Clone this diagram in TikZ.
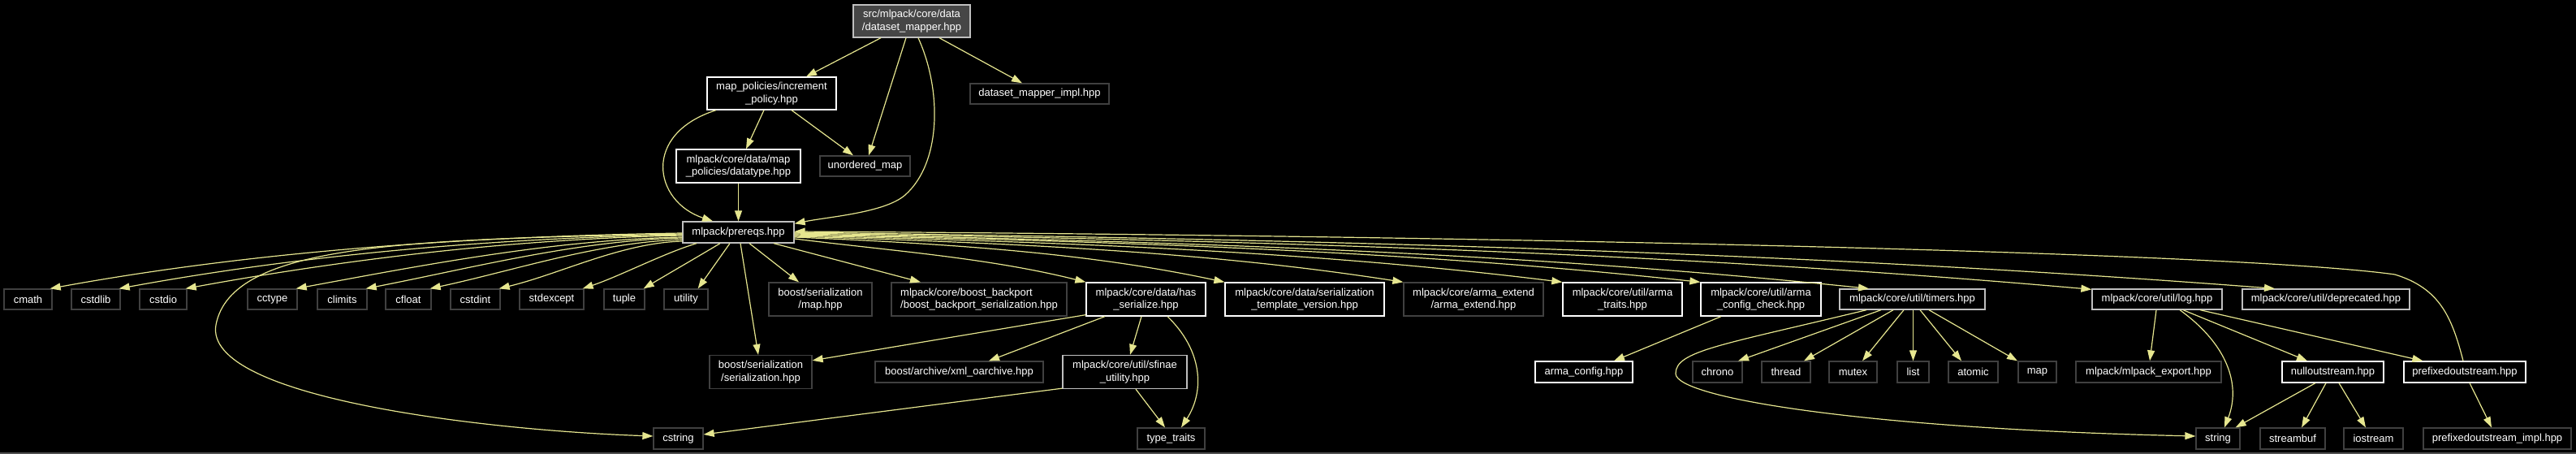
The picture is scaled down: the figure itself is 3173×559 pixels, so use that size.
\documentclass[tikz,border=0pt]{standalone}
\usepackage{fontspec}
\setmainfont{Liberation Sans}
\usetikzlibrary{arrows.meta,calc}
\definecolor{edgecol}{HTML}{E6E68F}
\definecolor{extgray}{HTML}{404040}
\definecolor{lgray}{HTML}{BFBFBF}
\definecolor{rootfill}{HTML}{464646}
\definecolor{framegray}{HTML}{505050}
\newcommand{\nodefont}{\fontsize{13}{15.5}\selectfont}
\tikzset{
  box/.style={draw, line width=1.3pt, inner sep=0pt, align=center, text=white, font=\nodefont, fill=black},
  ext/.style={box, draw=extgray},
  doc/.style={box, draw=white},
  trunc/.style={box, draw=lgray},
  rootbox/.style={box, draw=lgray, fill=rootfill},
  sz/.style 2 args={minimum width=#1pt, minimum height=#2pt},
  edge/.style={draw=edgecol, line width=1.2pt, -{Triangle[length=13pt,width=9pt]}},
}
\begin{document}
\begin{tikzpicture}[x=1pt,y=-1pt]
\useasboundingbox (0,0) rectangle (3173,559);
\fill[black] (0,0) rectangle (3173,559);
\draw[framegray, line width=2pt] (0,558) -- (3173,558);

% ---- nodes ----
\node[rootbox, sz={144}{40}] (root) at (1123,26) {src/mlpack/core/data\\/dataset\_mapper.hpp};
\node[doc, sz={159}{40}] (inc) at (950.5,115) {map\_policies/increment\\\_policy.hpp};
\node[ext, sz={171}{25}] (impl) at (1280.5,115.5) {dataset\_mapper\_impl.hpp};
\node[doc, sz={153}{41}] (dt) at (909.5,204.5) {mlpack/core/data/map\\\_policies/datatype.hpp};
\node[ext, sz={111}{25}] (um) at (1065.5,204.5) {unordered\_map};
\node[trunc, sz={137}{26}] (prereqs) at (909.5,286) {mlpack/prereqs.hpp};

\node[ext, sz={59}{25}] (cmath) at (34.5,368.5) {cmath};
\node[ext, sz={60}{25}] (cstdlib) at (118,368.5) {cstdlib};
\node[ext, sz={58}{25}] (cstdio) at (201,368.5) {cstdio};
\node[ext, sz={61}{25}] (cctype) at (335.5,368.5) {cctype};
\node[ext, sz={61}{25}] (climits) at (421.5,368.5) {climits};
\node[ext, sz={56}{25}] (cfloat) at (503,368.5) {cfloat};
\node[ext, sz={61}{25}] (cstdint) at (585.5,368.5) {cstdint};
\node[ext, sz={79}{25}] (stdexcept) at (679.5,368.5) {stdexcept};
\node[ext, sz={50}{25}] (tuple) at (769,368.5) {tuple};
\node[ext, sz={54}{25}] (utility) at (845,368.5) {utility};
\node[ext, sz={127}{41}] (bmap) at (1010.5,368.5) {boost/serialization\\/map.hpp};
\node[ext, sz={216}{41}, align=left] (backport) at (1206,368.5) {mlpack/core/boost\_backport\\/boost\_backport\_serialization.hpp};
\node[doc, sz={147}{41}] (hs) at (1411.5,368.5) {mlpack/core/data/has\\\_serialize.hpp};
\node[doc, sz={196}{41}] (stv) at (1607,368.5) {mlpack/core/data/serialization\\\_template\_version.hpp};
\node[ext, sz={172}{41}] (ae) at (1815,368.5) {mlpack/core/arma\_extend\\/arma\_extend.hpp};
\node[doc, sz={147}{41}] (at) at (1998.5,368.5) {mlpack/core/util/arma\\\_traits.hpp};
\node[doc, sz={148}{41}] (acc) at (2169,368.5) {mlpack/core/util/arma\\\_config\_check.hpp};
\node[trunc, sz={179}{25}] (timers) at (2355.5,368.5) {mlpack/core/util/timers.hpp};
\node[trunc, sz={160}{25}] (log) at (2657,368.5) {mlpack/core/util/log.hpp};
\node[trunc, sz={206}{25}] (dep) at (2865,368.5) {mlpack/core/util/deprecated.hpp};

\node[ext, sz={126}{41}] (bserial) at (937,458) {boost/serialization\\/serialization.hpp};
\node[ext, sz={207}{26}] (xml) at (1181.5,458) {boost/archive/xml\_oarchive.hpp};
\node[trunc, sz={153}{41}] (sfinae) at (1385.5,458) {mlpack/core/util/sfinae\\\_utility.hpp};
\node[doc, sz={120}{26}] (ac) at (1951,458) {arma\_config.hpp};
\node[ext, sz={61}{26}] (chrono) at (2115.5,458) {chrono};
\node[ext, sz={60}{26}] (thread) at (2200,458) {thread};
\node[ext, sz={59}{26}] (mutex) at (2282.5,458) {mutex};
\node[ext, sz={39}{26}] (list) at (2356.5,458) {list};
\node[ext, sz={61}{26}] (atomic) at (2430.5,458) {atomic};
\node[ext, sz={47}{26}] (map) at (2509.5,458) {map};
\node[ext, sz={179}{26}] (mexp) at (2646.5,458) {mlpack/mlpack\_export.hpp};
\node[doc, sz={125}{26}] (null) at (2873.5,458) {nulloutstream.hpp};
\node[doc, sz={150}{26}] (pref) at (3036,458) {prefixedoutstream.hpp};

\node[ext, sz={61}{26}] (cstring) at (835.5,540) {cstring};
\node[ext, sz={83}{26}] (tt) at (1442.5,540) {type\_traits};
\node[ext, sz={54}{26}] (string) at (2732,540) {string};
\node[ext, sz={80}{26}] (streambuf) at (2824,540) {streambuf};
\node[ext, sz={73}{26}] (iostream) at (2923.5,540) {iostream};
\node[ext, sz={182}{26}] (pimpl) at (3076,540) {prefixedoutstream\_impl.hpp};

% ---- edges ----
% root
\draw[edge] ($(root.south)+(-38,0)$) -- ($(inc.north)+(42.5,0)$);
\draw[edge] ($(root.south)+(-7,0)$) -- ($(um.north)+(4.5,0)$);
\draw[edge] ($(root.south)+(8,0)$) .. controls (1160,110) and (1160,200) .. (1115,240) .. controls (1090,262) and (1020,267) .. ($(prereqs.north east)+(0,3)$);
\draw[edge] ($(root.south)+(34,0)$) -- ($(impl.north)+(-21.5,0)$);
% increment policy
\draw[edge] ($(inc.south)+(-68.5,0)$) .. controls (790,165) and (805,248) .. ($(prereqs.north)+(-31.5,0)$);
\draw[edge] ($(inc.south)+(-9.5,0)$) -- ($(dt.north)+(9.5,0)$);
\draw[edge] ($(inc.south)+(24.5,0)$) -- ($(um.north)+(-14.5,0)$);
% datatype
\draw[edge] (dt.south) -- (prereqs.north);
% prereqs, left fan
\draw[edge] ($(prereqs.west)+(0,1)$) .. controls +(-257,4) and +(257,-47) .. ($(cmath.north east)+(-3,0)$);
\draw[edge] ($(prereqs.west)+(0,3)$) .. controls +(-229,4) and +(229,-42) .. ($(cstdlib.north east)+(-2,0)$);
\draw[edge] ($(prereqs.west)+(0,4)$) .. controls +(-202,4) and +(202,-37) .. ($(cstdio.north east)+(-2,0)$);
\draw[edge] ($(prereqs.west)+(0,6)$) .. controls +(-157,3) and +(157,-29) .. ($(cctype.north east)+(-2,0)$);
\draw[edge] ($(prereqs.west)+(0,7)$) .. controls +(-129,3) and +(129,-25) .. ($(climits.north east)+(-2,0)$);
\draw[edge] ($(prereqs.west)+(0,9)$) .. controls +(-103,3) and +(103,-22) .. ($(cfloat.north east)+(-2,0)$);
\draw[edge] ($(prereqs.west)+(0,11)$) .. controls +(-75,2) and +(75,-18) .. ($(cstdint.north east)+(-2,0)$);
\draw[edge] ($(prereqs.south)+(-51.5,0)$) .. controls +(-40,12) and +(45,-15) .. ($(stdexcept.north east)+(-2,0)$);
\draw[edge] ($(prereqs.south)+(-22.5,0)$) .. controls +(-25,15) and +(25,-15) .. ($(tuple.north east)+(-2,0)$);
\draw[edge] ($(prereqs.south)+(-10.5,0)$) -- ($(utility.north east)+(-13,0)$);
\draw[edge] ($(prereqs.west)+(0,2)$) .. controls (500,295) and (285,300) .. (266,400) .. controls (250,490) and (600,530) .. ($(cstring.west)+(0,-3)$);
% prereqs, down / right fan
\draw[edge] ($(prereqs.south)+(2.5,0)$) -- ($(bserial.north)+(-3,0)$);
\draw[edge] ($(prereqs.south)+(13.5,0)$) -- ($(bmap.north)+(-26.5,0)$);
\draw[edge] ($(prereqs.south)+(43.5,0)$) -- ($(backport.north)+(-72,0)$);
\draw[edge] ($(prereqs.east)+(0,8)$) .. controls +(120,15) and +(-120,-30) .. (hs.north west);
\draw[edge] ($(prereqs.east)+(0,6)$) .. controls +(212,9) and +(-159,-34) .. (stv.north west);
\draw[edge] ($(prereqs.east)+(0,5)$) .. controls +(300,9) and +(-225,-35) .. (ae.north west);
\draw[edge] ($(prereqs.east)+(0,4)$) .. controls +(379,9) and +(-284,-35) .. (at.north west);
\draw[edge] ($(prereqs.east)+(0,3)$) .. controls +(447,9) and +(-335,-36) .. (acc.north west);
\draw[edge] ($(prereqs.east)+(0,2)$) .. controls +(530,10) and +(-397,-41) .. ($(timers.north)+(-53.5,0)$);
\draw[edge] ($(prereqs.east)+(0,1)$) .. controls +(640,10) and +(-480,-42) .. ($(log.north west)+(0,1)$);
\draw[edge] (prereqs.east) .. controls +(730,10) and +(-547,-42) .. ($(dep.north)+(-63,0)$);
% has_serialize
\draw[edge] ($(hs.south west)+(0,-2)$) -- ($(bserial.north east)+(0,7)$);
\draw[edge] ($(hs.south)+(-50.5,0)$) -- ($(xml.north)+(36.5,0)$);
\draw[edge] ($(hs.south)+(-5.5,0)$) -- ($(sfinae.north)+(6.5,0)$);
\draw[edge] ($(hs.south)+(26.5,0)$) .. controls (1480,430) and (1485,480) .. ($(tt.north)+(12.5,0)$);
% sfinae
\draw[edge] ($(sfinae.south west)+(0,-1)$) -- ($(cstring.east)+(0,-5)$);
\draw[edge] ($(sfinae.south)+(13.5,0)$) -- ($(tt.north)+(-7.5,0)$);
% arma config check
\draw[edge] ($(acc.south)+(-49,0)$) -- ($(ac.north)+(37,0)$);
% timers
\draw[edge] ($(timers.south)+(-38.5,0)$) -- ($(chrono.north)+(25.5,0)$);
\draw[edge] ($(timers.south)+(-23.5,0)$) -- ($(thread.north)+(22,0)$);
\draw[edge] ($(timers.south)+(-10.5,0)$) -- ($(mutex.north)+(11.5,0)$);
\draw[edge] ($(timers.south)+(1,0)$) -- (list.north);
\draw[edge] ($(timers.south)+(9.5,0)$) -- ($(atomic.north)+(-14.5,0)$);
\draw[edge] ($(timers.south)+(20.5,0)$) -- ($(map.north)+(-24.5,0)$);
\draw[edge] ($(timers.south)+(-56.5,0)$) .. controls (2120,425) and (2064,432) .. (2064,460) .. controls (2064,490) and (2300,528) .. ($(string.west)+(0,-3)$);
% log
\draw[edge] ($(log.south)+(-1,0)$) -- ($(mexp.north)+(1.5,0)$);
\draw[edge] ($(log.south)+(28,0)$) .. controls (2745,425) and (2760,475) .. ($(string.north)+(8,0)$);
\draw[edge] ($(log.south)+(32,0)$) -- ($(null.north)+(-31.5,0)$);
\draw[edge] ($(log.south)+(53,0)$) -- ($(pref.north west)+(24,0)$);
% nulloutstream
\draw[edge] ($(null.south)+(-21.5,0)$) -- ($(string.north east)+(-6,0)$);
\draw[edge] ($(null.south)+(-8.5,0)$) -- ($(streambuf.north)+(11,0)$);
\draw[edge] ($(null.south)+(7.5,0)$) -- ($(iostream.north)+(-9.5,0)$);
% prefixedoutstream
\draw[edge] ($(pref.south)+(6,0)$) -- ($(pimpl.north)+(-7,0)$);
\draw[edge] ($(pref.north)+(-2,0)$) .. controls (3020,390) and (3005,355) .. (2950,338) .. controls (2750,310) and (1800,290) .. ($(prereqs.east)+(0,-1)$);
\end{tikzpicture}
\end{document}
